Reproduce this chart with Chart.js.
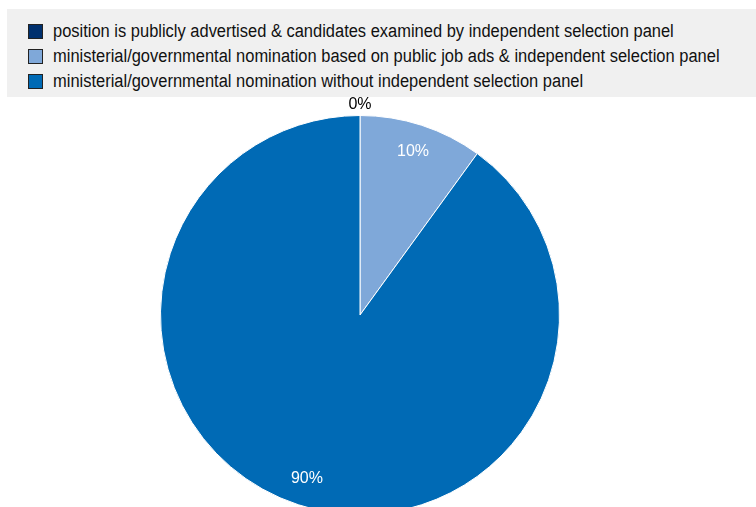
<!DOCTYPE html>
<html>
<head>
<meta charset="utf-8">
<script src="https://cdn.jsdelivr.net/npm/chart.js@4.4.1/dist/chart.umd.min.js"></script>
<style>
  html, body { margin: 0; padding: 0; width: 756px; height: 507px; overflow: hidden; background: #fff; }
  #legend {
    position: absolute; left: 7px; top: 9px; width: 749px; height: 88px;
    background: #f0f0f0; box-sizing: border-box; padding-top: 10px;
    font-family: "Liberation Sans", Arial, sans-serif;
    font-size: 18px; color: #111;
  }
  .item { height: 25px; display: flex; align-items: center; padding-left: 21px; }
  .box { width: 13px; height: 13px; border: 1px solid #222; margin-right: 10px; flex: none; }
  .name { display: inline-block; white-space: nowrap; transform: scaleX(0.915); transform-origin: left center; }
  #wrap { position: absolute; left: 0; top: 90px; width: 756px; height: 435px; }
</style>
</head>
<body>
<div id="legend"></div>
<div id="wrap"><canvas id="pie"></canvas></div>
<script>
  const categories = [
    'position is publicly advertised & candidates examined by independent selection panel',
    'ministerial/governmental nomination based on public job ads & independent selection panel',
    'ministerial/governmental nomination without independent selection panel'
  ];
  const shares = [0, 10, 90];
  const colors = ['#00306e', '#7fa8d9', '#006ab5'];

  // legend above the pie
  let legend = document.getElementById('legend');
  categories.forEach((name, i) => {
    let row = document.createElement('div');
    row.className = 'item';
    row.innerHTML = `<span class="box" style="background:${colors[i]}"></span><span class="name">${name}</span>`;
    legend.appendChild(row);
  });

  // percent labels: inside the slice in white, outside in black when the slice is empty
  const sliceLabels = {
    id: 'sliceLabels',
    afterDatasetsDraw(chart) {
      let ctx = chart.ctx;
      let arcs = chart.getDatasetMeta(0).data;
      ctx.save();
      ctx.font = '16px "Liberation Sans", Arial, sans-serif';
      ctx.textAlign = 'center';
      ctx.textBaseline = 'middle';
      arcs.forEach((arc, i) => {
        let mid = (arc.startAngle + arc.endAngle) / 2;
        let empty = shares[i] === 0;
        let r = arc.outerRadius * (empty ? 1.055 : 0.86);
        ctx.fillStyle = empty ? '#000' : '#fff';
        ctx.fillText(shares[i] + '%', arc.x + Math.cos(mid) * r, arc.y + Math.sin(mid) * r);
      });
      ctx.restore();
    }
  };

  new Chart(document.getElementById('pie'), {
    type: 'pie',
    data: {
      labels: categories,
      datasets: [{
        data: shares,
        backgroundColor: colors,
        borderColor: '#fff',
        borderWidth: 1
      }]
    },
    options: {
      responsive: true,
      maintainAspectRatio: false,
      animation: false,
      layout: { padding: { top: 25, bottom: 10, left: 0, right: 36 } },
      plugins: {
        legend: { display: false },
        tooltip: { enabled: false }
      }
    },
    plugins: [sliceLabels]
  });
</script>
</body>
</html>
